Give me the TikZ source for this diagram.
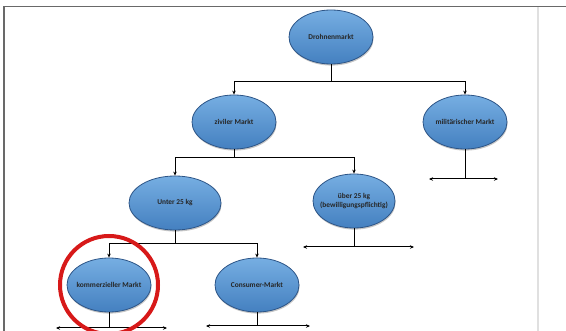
\documentclass[tikz,border=0pt]{standalone}
\usepackage{fontspec}
\setmainfont{Carlito}
\usetikzlibrary{shapes.geometric, arrows.meta, shadows}
\definecolor{ovalBlue}{RGB}{68, 128, 192}
\definecolor{ovalLight}{RGB}{118, 174, 226}
\definecolor{ovalEdge}{RGB}{45, 85, 135}
\definecolor{frameGray}{RGB}{105, 105, 105}
\definecolor{ringRed}{RGB}{215, 25, 25}

\tikzset{
  oval/.style={ellipse, draw=ovalEdge, thick, top color=ovalLight, bottom color=ovalBlue,
    minimum width=84pt, minimum height=54pt, inner xsep=-7pt, inner ysep=0pt,
    align=center, font=\bfseries\fontsize{7.4}{8.4}\selectfont, text=black!85,
    drop shadow={shadow xshift=0.6pt, shadow yshift=-1.6pt, opacity=0.45}},
  link/.style={line width=1pt, -{Stealth[length=4pt, width=3.5pt]}},
  branch/.style={line width=1pt, {Stealth[length=4pt, width=3.5pt]}-{Stealth[length=4pt, width=3.5pt]}}
}

\begin{document}
\begin{tikzpicture}[x=1pt, y=-1pt]
        \useasboundingbox (0,0) rectangle (566,331);
        % frame
        \draw[frameGray, line width=1.5pt] (4,331) -- (4,6.5) -- (566,6.5);
        \draw[black!12, line width=2pt] (538,7.5) -- (538,331);

        % ovals
        \node[oval] (drone) at (331,37) {Drohnenmarkt};
        \node[oval] (civil) at (234,122) {ziviler Markt};
        \node[oval] (mil) at (465,122) {militärischer Markt};
        \node[oval, minimum width=92pt] (light) at (175,203) {Unter 25 kg};
        \node[oval, minimum width=82pt] (heavy) at (354,201) {über 25 kg\\(bewilligungspflichtig)};
        \node[oval] (comm) at (109,285) {kommerzieller Markt};
        \node[oval] (cons) at (257,285) {Consumer-Markt};

        % tree links
        \draw[line width=1pt] (drone.south) -- ++(0,17) coordinate (dj);
        \draw[link] (dj) -| (civil.north);
        \draw[link] (dj) -| (mil.north);
        \draw[line width=1pt] (civil.south) -- ++(0,8) coordinate (cj);
        \draw[link] (cj) -| (light.north);
        \draw[link] (cj) -| (heavy.north);
        \draw[line width=1pt] (light.south) -- ++(0,13) coordinate (lj);
        \draw[link] (lj) -| (comm.north);
        \draw[link] (lj) -| (cons.north);

        % open ends
        \coordinate (milL) at (429,179); \coordinate (milR) at (498,179);
        \coordinate (heavyL) at (303,247); \coordinate (heavyR) at (414,247);
        \coordinate (commL) at (56,328); \coordinate (commR) at (167,328);
        \coordinate (consL) at (206,326); \coordinate (consR) at (310,326);
        \draw[line width=1pt] (mil.south) -- (mil.south |- milL);
        \draw[branch] (milL) -- (milR);
        \draw[line width=1pt] (heavy.south) -- (heavy.south |- heavyL);
        \draw[branch] (heavyL) -- (heavyR);
        \draw[line width=1pt] (comm.south) -- (comm.south |- commL);
        \draw[branch] (commL) -- (commR);
        \draw[line width=1pt] (cons.south) -- (cons.south |- consL);
        \draw[branch] (consL) -- (consR);

        % highlight
        \draw[ringRed, line width=4pt] (comm.center) circle[radius=49pt];
      \end{tikzpicture}
\end{document}
